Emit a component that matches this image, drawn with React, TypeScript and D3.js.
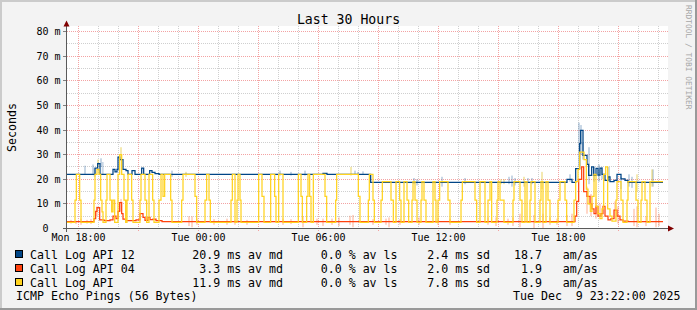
import React from 'react';
import * as d3 from 'd3';

const W = 697;
const H = 310;
const AXIS_START = new Date(2025, 11, 8, 17, 24);
const AXIS_END = new Date(2025, 11, 9, 23, 24);
const DATA_START = new Date(2025, 11, 8, 17, 25, 30);
const DATA_END_MIN = 1788;

// step series: [minutes since DATA_START, median RTT in ms]
const api12: [number, number][] = [
  [0, 22], [84, 24.5], [92, 26.3], [99, 22], [138, 24], [144, 23], [150, 24], [153, 29], [158, 28],
  [168, 24], [177, 23.5], [183, 22], [195, 23.5], [204, 22], [224, 24.5], [230, 22], [248, 23.5],
  [255, 22.8], [264, 22.3], [276, 22], [768, 22.4], [780, 22], [911, 18.7], [1500, 20], [1515, 18.7],
  [1526, 24.3], [1538, 34.5], [1541, 39.8], [1548, 29.7], [1560, 26], [1565, 21.6], [1574, 25],
  [1580, 21.6], [1587, 24.4], [1593, 21.7], [1599, 24.5], [1605, 22], [1614, 19.5], [1623, 21],
  [1629, 19], [1641, 19.5], [1650, 22], [1662, 20.2], [1674, 19.5], [1683, 18.7],
];

const api04: [number, number][] = [
  [0, 2.8], [81, 4], [86, 7], [90, 8.5], [98, 3.5], [111, 3.2], [129, 3.5], [138, 5], [147, 4],
  [153, 7], [158, 10.5], [164, 6], [168, 3.8], [177, 3.2], [207, 3.5], [219, 6], [228, 4.5],
  [234, 3.3], [243, 4.5], [249, 3.6], [258, 3.8], [267, 3.2], [285, 2.8], [1524, 5], [1529, 11],
  [1535, 20], [1544, 25], [1550, 15], [1560, 13], [1569, 10], [1575, 8], [1581, 6], [1587, 9],
  [1593, 5], [1602, 6], [1608, 9], [1614, 5], [1623, 3.5], [1632, 4], [1641, 7.5], [1650, 5],
  [1659, 3.5], [1668, 3], [1683, 2.8],
];

const apiMain: [number, number][] = [
  [0, 2.5], [24, 11.5], [28, 22], [38, 11.5], [42, 2.5], [81, 11.5], [84, 22], [90, 24], [96, 22],
  [101, 11.5], [105, 6.8], [108, 2.5], [117, 11.5], [120, 22], [129, 11.5], [134, 6.8], [138, 11.5],
  [143, 2.5], [153, 22], [158, 30], [164, 22], [171, 11.5], [176, 2.5], [180, 11.5], [183, 22],
  [194, 11.5], [198, 2.5], [219, 11.5], [222, 22], [234, 11.5], [239, 2.5], [246, 22], [257, 11.5],
  [261, 2.5], [276, 11.5], [282, 22], [288, 13], [293, 22], [311, 11.5], [315, 2.5], [344, 11.5],
  [348, 22], [384, 13], [389, 2.5], [414, 11.5], [419, 22], [426, 11.5], [430, 2.5], [492, 11.5],
  [496, 22], [504, 2.5], [510, 11.5], [513, 22], [519, 11.5], [522, 2.5], [575, 22], [585, 13],
  [591, 2.5], [611, 22], [623, 13], [627, 2.5], [635, 22], [648, 2.5], [694, 22], [702, 13],
  [706, 2.5], [719, 13], [723, 22], [728, 13], [732, 2.5], [739, 22], [774, 13], [779, 2.5],
  [806, 11.5], [809, 22], [874, 13], [879, 2.5], [904, 11.5], [907, 22], [918, 11.5], [922, 2.5],
  [942, 11.5], [946, 19], [972, 11.5], [979, 2.5], [987, 19], [998, 11.5], [1002, 2.5], [1011, 19],
  [1020, 11.5], [1025, 2.5], [1035, 11.5], [1038, 19], [1044, 11.5], [1050, 2.5], [1062, 11.5],
  [1065, 19], [1071, 11.5], [1077, 2.5], [1098, 19], [1104, 11.5], [1107, 2.5], [1113, 11.5],
  [1118, 19], [1143, 11.5], [1149, 2.5], [1182, 11.5], [1186, 19], [1224, 11.5], [1229, 2.5],
  [1239, 19], [1254, 2.5], [1263, 11.5], [1269, 19], [1274, 2.5], [1290, 11.5], [1293, 19],
  [1299, 11.5], [1311, 2.5], [1338, 11.5], [1341, 19], [1359, 11.5], [1365, 2.5], [1374, 19],
  [1380, 2.5], [1389, 11.5], [1392, 19], [1404, 2.5], [1419, 11.5], [1422, 19], [1428, 2.5],
  [1437, 19], [1443, 11.5], [1449, 2.5], [1473, 11.5], [1479, 19], [1494, 11.5], [1499, 2.5],
  [1521, 11.5], [1526, 19], [1533, 24], [1538, 31], [1551, 28], [1558, 16], [1563, 10], [1570, 7],
  [1575, 13], [1581, 22], [1587, 9], [1593, 6], [1599, 4], [1605, 8], [1610, 22], [1616, 25],
  [1622, 8], [1629, 5], [1635, 3], [1647, 11.5], [1650, 19], [1662, 11.5], [1668, 2.5],
  [1680, 11.5], [1683, 19], [1707, 11.5], [1713, 2.5], [1722, 11.5], [1725, 19], [1734, 11.5],
  [1740, 2.5], [1749, 19],
];

// smoke (spread) samples: [minutes since DATA_START, low ms, high ms]
const smoke12: [number, number, number][] = [
  [51, 22, 25.5], [75, 22, 26], [80, 21, 24.5], [99, 25, 28.5], [104, 22, 27], [312, 21, 23.5],
  [636, 21.5, 23.5], [669, 21.5, 23], [711, 21.5, 23.5], [861, 22, 23.5], [870, 22, 23],
  [885, 22, 23.2], [1038, 18, 20.5], [1047, 17.5, 20], [1122, 17, 21], [1191, 18, 20.5],
  [1323, 18, 21], [1332, 17, 21.5], [1341, 17.5, 20.5], [1380, 18.5, 20.5], [1392, 18, 20.5],
  [1506, 19, 22], [1533, 25, 43], [1539, 30, 42], [1545, 28, 35], [1563, 18, 33], [1578, 19, 25],
  [1593, 19, 26], [1602, 20, 25], [1623, 19, 25], [1659, 16, 21], [1683, 17, 22], [1692, 16.5, 21],
  [1755, 17, 24],
];
const smoke04: [number, number, number][] = [
  [9, 2, 3.5], [24, 1.8, 3.2], [39, 1.5, 4], [57, 2, 3.5], [69, 1.8, 3.8], [87, 5, 9], [159, 7, 12],
  [363, 1, 5], [372, 0.5, 5], [387, 1.5, 4], [438, 1.5, 3.8], [477, 1.5, 4], [501, 1.5, 3.5],
  [537, 1.5, 3.5], [645, 1.5, 4], [669, 1.8, 3.8], [705, 0.5, 5], [747, 1.5, 4], [765, 1, 4],
  [792, 1.5, 4], [813, 1, 4.5], [846, 1.5, 5.2], [855, 0.5, 5.5], [915, 1.5, 3.8], [954, 1.5, 4],
  [963, 0.5, 4.5], [996, 1.5, 3.8], [1053, 1.5, 4.5], [1110, 1.5, 4], [1146, 1.5, 4],
  [1260, 1.5, 4.5], [1284, 1, 4.5], [1320, 1.5, 4], [1335, 1, 4.5], [1356, 0.5, 6], [1398, 0, 5.5],
  [1425, 0, 6], [1446, 1.5, 4.5], [1467, 1.5, 4], [1497, 1, 5.5], [1512, 1, 6], [1557, 6, 17],
  [1569, 5, 14], [1584, 4, 12], [1596, 5, 10], [1641, 4, 11], [1650, 2, 9], [1698, 1, 8],
  [1707, 0.5, 9], [1734, 1, 5], [1764, 0.5, 8.5], [1773, 1, 6],
];
const smokeMain: [number, number, number][] = [
  [90, 25, 28], [159, 28, 33], [354, 21, 23], [849, 21.5, 25], [1299, 18, 20], [1308, 18, 20],
  [1368, 17, 21], [1422, 16, 23], [1707, 15, 22], [1752, 17, 24],
];

const legendNames = ['Call Log API 12', 'Call Log API 04', 'Call Log API'];
const legendColors = ['#004586', '#ff420e', '#ffd320'];
const medians = [20.9, 3.3, 11.9];
const losses = [0.0, 0.0, 0.0];
const stdDevs = [2.4, 2.0, 7.8];
const amAs = [18.7, 1.9, 8.9];
const yTickValues = [0, 10, 20, 30, 40, 50, 60, 70, 80];
const xLabelTimes = [
  new Date(2025, 11, 8, 18, 0), new Date(2025, 11, 9, 0, 0), new Date(2025, 11, 9, 6, 0),
  new Date(2025, 11, 9, 12, 0), new Date(2025, 11, 9, 18, 0),
];
const titleText = 'Last 30 Hours';
const yTitle = 'Seconds';
const footerLeft = 'ICMP Echo Pings (56 Bytes)';
const footerRight = 'Tue Dec  9 23:22:00 2025';
const watermark = 'RRDTOOL / TOBI OETIKER';

const MONO = '"DejaVu Sans Mono", monospace';
const nb = (s: string) => s.replace(/ /g, '\u00a0');

export default function App() {
  const x = d3.scaleTime().domain([AXIS_START, AXIS_END]).range([66.5, 666.5]);
  const y = d3.scaleLinear().domain([0, 80]).range([228.5, 31.5]);
  const t = (m: number) => new Date(DATA_START.getTime() + m * 60000);
  const line = d3
    .line<[number, number]>()
    .x((d) => x(t(d[0])))
    .y((d) => y(d[1]))
    .curve(d3.curveStepAfter);
  const withEnd = (s: [number, number][]) => [...s, [DATA_END_MIN, s[s.length - 1][1]] as [number, number]];

  const hours = d3.timeHour.range(d3.timeHour.ceil(AXIS_START), AXIS_END);
  const hGrid = d3.range(5, 81, 5);
  const fmt = d3.timeFormat('%a %H:%M');

  const smokeSets: { data: [number, number, number][]; color: string; op: number }[] = [
    { data: smoke04, color: '#ff6a3a', op: 0.28 },
    { data: smoke12, color: '#3a6ea5', op: 0.28 },
    { data: smokeMain, color: '#e0c020', op: 0.35 },
  ];
  const series = [api12, api04, apiMain];

  const fmtNum = (v: number, w: number) => v.toFixed(1).padStart(w);
  const CHAR = 6.02;

  return (
    <svg
      width={W}
      height={H}
      style={{ position: 'fixed', left: 0, top: 0, fontFamily: MONO }}
    >
      <rect x={0} y={0} width={W} height={H} fill="#f3f3f3" />
      <rect x={0} y={0} width={W} height={2} fill="#cbcbcb" />
      <rect x={0} y={0} width={2} height={H} fill="#cbcbcb" />
      <rect x={0} y={H - 2} width={W} height={2} fill="#999999" />
      <rect x={W - 2} y={0} width={2} height={H} fill="#999999" />

      <rect x={67} y={26} width={601} height={203} fill="#ffffff" />

      {/* vertical grid */}
      {hours.map((h, i) => {
        const major = h.getHours() % 3 === 0;
        const xx = Math.round(x(h) - 0.5) + 0.5;
        return (
          <line
            key={'v' + i}
            x1={xx}
            x2={xx}
            y1={26}
            y2={major ? 231 : 228}
            stroke={major ? '#f3a3a3' : '#cfcfcf'}
            strokeDasharray="1,1"
          />
        );
      })}
      {/* horizontal grid */}
      {hGrid.map((v) => {
        const major = v % 10 === 0;
        const yy = Math.round(y(v) - 0.5) + 0.5;
        return (
          <g key={'h' + v}>
            <line
              x1={67}
              x2={668}
              y1={yy}
              y2={yy}
              stroke={major ? '#f3a3a3' : '#cfcfcf'}
              strokeDasharray="1,1"
            />
            {major && <line x1={63} x2={66} y1={yy} y2={yy} stroke="#808080" />}
          </g>
        );
      })}

      {/* smoke */}
      {smokeSets.map((s, si) =>
        s.data.map((d, i) => (
          <rect
            key={'s' + si + '-' + i}
            x={x(t(d[0]))}
            width={x(t(d[0] + 6)) - x(t(d[0]))}
            y={y(d[2])}
            height={y(d[1]) - y(d[2])}
            fill={s.color}
            fillOpacity={s.op}
          />
        ))
      )}

      {/* median lines */}
      {series.map((s, i) => (
        <path
          key={'l' + i}
          d={line(withEnd(s)) || ''}
          fill="none"
          stroke={legendColors[i]}
          strokeWidth={1.25}
          strokeLinejoin="miter"
        />
      ))}

      {/* axes */}
      <line x1={66.5} x2={66.5} y1={26} y2={232} stroke="#5a5a5a" />
      <line x1={63} x2={669} y1={228.5} y2={228.5} stroke="#5a5a5a" />
      <polygon points="63.5,26.5 69.5,26.5 66.5,20.5" fill="#800000" />
      <polygon points="668,225.5 668,231.5 674,228.5" fill="#800000" />

      {/* y tick labels */}
      {yTickValues.map((v) => (
        <text
          key={'yl' + v}
          x={v === 0 ? 60.5 - 2 * CHAR : 60.5}
          y={y(v) + 3.6}
          fontSize={10}
          textAnchor="end"
          fill="#000"
        >
          {nb(v === 0 ? '0' : `${v} m`)}
        </text>
      ))}

      {/* x labels */}
      {xLabelTimes.map((d, i) => (
        <text key={'xl' + i} x={x(d)} y={240.5} fontSize={10} textAnchor="middle" fill="#000">
          {fmt(d)}
        </text>
      ))}

      {/* title */}
      <text x={348.5} y={23.5} fontSize={13.2} textAnchor="middle" fill="#000">
        {titleText}
      </text>
      <text
        transform="translate(15.5,127.5) rotate(-90)"
        fontSize={11.6}
        textAnchor="middle"
        fill="#000"
      >
        {yTitle}
      </text>
      <text transform="translate(686,5) rotate(90)" fontSize={7.9} fill="#a6a6a6">
        {watermark}
      </text>

      {/* legend */}
      {legendNames.map((name, i) => {
        const by = 258.5 + i * 14;
        return (
          <g key={'lg' + i} fontSize={11.6} fill="#000">
            <rect x={15.5} y={by - 8} width={7} height={7} fill={legendColors[i]} stroke="#000" />
            <text x={30} y={by}>{name}</text>
            <text x={185.3} y={by}>{nb(`${fmtNum(medians[i], 5)} ms av md`)}</text>
            <text x={306.8} y={by}>{nb(`${fmtNum(losses[i], 5)} % av ls`)}</text>
            <text x={420.3} y={by}>{nb(`${fmtNum(stdDevs[i], 4)} ms sd`)}</text>
            <text x={514} y={by}>{nb(`${fmtNum(amAs[i], 4)}   am/as`)}</text>
          </g>
        );
      })}
      <text x={16} y={300} fontSize={11.6} fill="#000">
        {footerLeft}
      </text>
      <text x={513} y={300} fontSize={11.6} fill="#000">
        {nb(footerRight)}
      </text>
    </svg>
  );
}
